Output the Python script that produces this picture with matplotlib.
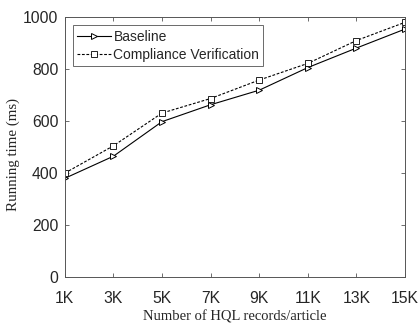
import matplotlib
matplotlib.use("Agg")
import matplotlib.pyplot as plt

records = [1, 3, 5, 7, 9, 11, 13, 15]
tick_labels = ["1K", "3K", "5K", "7K", "9K", "11K", "13K", "15K"]
baseline = [380, 465, 598, 663, 719, 806, 881, 954]
compliance = [400, 505, 631, 687, 758, 822, 910, 980]

plt.rcParams["font.family"] = ["Liberation Sans", "DejaVu Sans"]
fig = plt.figure(figsize=(4.18, 3.23), dpi=100)
ax = fig.add_axes([0.155, 0.142, 0.814, 0.805])

ax.plot(records, baseline, "-", color="black", lw=0.8, marker=">",
        mfc="white", mec="black", ms=5, mew=0.7, label="Baseline")
ax.plot(records, compliance, "--", color="black", lw=0.8, marker="s",
        mfc="white", mec="black", ms=4, mew=0.6, dashes=(2.5, 1.5),
        label="Compliance Verification")

ax.set_xlim(1, 15)
ax.set_ylim(0, 1000)
ax.set_xticks(records)
ax.set_xticklabels(tick_labels)
ax.set_yticks([0, 200, 400, 600, 800, 1000])
ax.tick_params(direction="in", top=True, right=True, labelsize=11.3,
               length=3, width=0.6, color="#555555", labelcolor="#262626")
ax.tick_params(axis="x", pad=10)
ax.tick_params(axis="y", pad=4.5)
for s in ax.spines.values():
    s.set_color("#555555")
    s.set_linewidth(0.7)

ax.set_xlabel("Number of HQL records/article", family="Liberation Serif",
              fontsize=10.5, color="#262626")
ax.set_ylabel("Running time (ms)", family="Liberation Serif",
              fontsize=10.8, color="#262626")
ax.xaxis.set_label_coords(0.5, -0.128)
ax.yaxis.set_label_coords(-0.132, 0.47)

leg = ax.legend(loc="upper left", fontsize=10, frameon=True, fancybox=False,
                edgecolor="#444444", handlelength=2.4, handletextpad=0.2,
                borderpad=0.3, labelspacing=0.3, borderaxespad=0.6)
leg.get_frame().set_linewidth(0.7)
for t in leg.get_texts():
    t.set_color("#262626")

fig.savefig("out.png", dpi=100)
